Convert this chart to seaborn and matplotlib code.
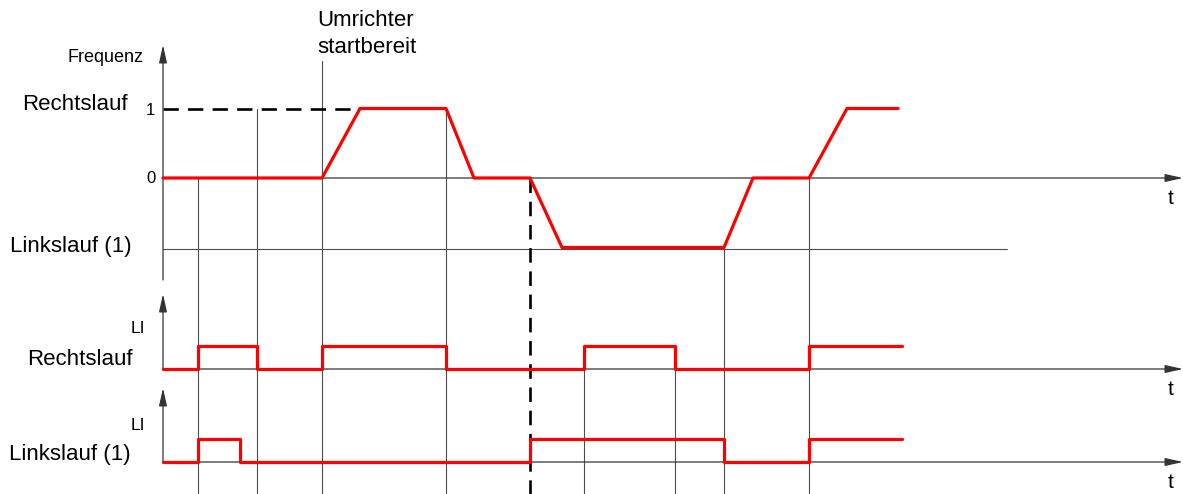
import matplotlib
matplotlib.use("Agg")
import matplotlib.pyplot as plt
import matplotlib.transforms as mtransforms
import seaborn as sns
import pandas as pd

sns.set_theme(style="white")
plt.rcParams["font.family"] = ["Liberation Sans", "DejaVu Sans"]
plt.rcParams["text.color"] = "black"

# ---- data (time in diagram units, values are signal levels) ----
freq_time = [163, 322, 360, 446, 474, 530, 562, 724, 753, 809, 847, 898]
freq_value = [0, 0, 1, 1, 0, 0, -1, -1, 0, 0, 1, 1]

li_right_time = [163, 198, 257, 322, 446, 584, 675, 809, 902]
li_right_value = [0, 1, 0, 1, 0, 1, 0, 1, 1]

li_left_time = [163, 198, 240, 530, 724, 809, 902]
li_left_value = [0, 1, 0, 1, 0, 1, 1]

event_time = [198, 257, 322, 446, 584, 675, 724, 809]
dashed_event_time = 530

freq_ticks = ["1", "0"]
labels_left = ["Rechtslauf", "Linkslauf (1)", "Rechtslauf", "Linkslauf (1)"]
title_text = "Umrichter\nstartbereit"

# ---- layout ----
W, H = 1183, 494
fig = plt.figure(figsize=(W / 100, H / 100), dpi=100)
ax = fig.add_axes([0, 0, 1, 1])
ax.set_xlim(0, W)
ax.set_ylim(H, 0)
ax.axis("off")

x0 = 163
red = "#ff0000"
grid_c = "#4d4d4d"
axis_c = "#333333"

# panel transforms: value -> pixel (base - amp*value)
def panel(base, amp):
    return mtransforms.Affine2D().scale(1, -amp).translate(0, base) + ax.transData

p_freq = panel(178, 69.5)
p_right = panel(369, 23)
p_left = panel(462, 23)

# vertical event lines (behind)
event_top = [178, 109, 61, 109, 346, 346, 249, 178]
for t, top in zip(event_time, event_top):
    ax.plot([t, t], [top, H], color=grid_c, lw=0.8, zorder=1)
ax.plot([dashed_event_time] * 2, [178, H], color="black", lw=1.9,
        dashes=(5.5, 3.3), zorder=4)

# horizontal reference lines
ax.plot([x0, 1007], [249, 249], color=grid_c, lw=0.8, zorder=1)
ax.plot([x0, 360], [109, 109], color="black", lw=1.9, dashes=(5.8, 3.5), zorder=2)

# axes with arrows
arrow_kw = dict(arrowstyle="-|>,head_length=0.9,head_width=0.2", color=axis_c,
                lw=0.9, shrinkA=0, shrinkB=0)
for y in (178, 369, 462):
    ax.annotate("", xy=(W, y), xytext=(x0, y), arrowprops=arrow_kw, zorder=2)
    ax.text(1171, y + 26, "t", fontsize=15, ha="center", va="baseline")
for ytop, ybot in ((45, 280), (294, 369), (388, 462)):
    ax.annotate("", xy=(x0, ytop), xytext=(x0, ybot), arrowprops=arrow_kw, zorder=2)

# signals via seaborn
df_f = pd.DataFrame({"t": freq_time, "v": freq_value})
df_r = pd.DataFrame({"t": li_right_time, "v": li_right_value})
df_l = pd.DataFrame({"t": li_left_time, "v": li_left_value})
sns.lineplot(data=df_f, x="t", y="v", ax=ax, color=red, lw=2.3, estimator=None,
             sort=False, transform=p_freq, zorder=5)
sns.lineplot(data=df_r, x="t", y="v", ax=ax, color=red, lw=2.3, estimator=None,
             sort=False, drawstyle="steps-post", transform=p_right, zorder=5)
sns.lineplot(data=df_l, x="t", y="v", ax=ax, color=red, lw=2.3, estimator=None,
             sort=False, drawstyle="steps-post", transform=p_left, zorder=5)
ax.set_xlim(0, W)
ax.set_ylim(H, 0)
ax.axis("off")
if ax.get_legend():
    ax.get_legend().remove()

# texts
ax.text(144, 62, "Frequenz", fontsize=13, ha="right", va="baseline")
ax.text(150, 115, freq_ticks[0], fontsize=12, ha="center", va="baseline")
ax.text(151, 183, freq_ticks[1], fontsize=12, ha="center", va="baseline")
ax.text(128, 110, labels_left[0], fontsize=16, ha="right", va="baseline")
ax.text(132, 252, labels_left[1], fontsize=16, ha="right", va="baseline")
ax.text(145, 333, "LI", fontsize=12.5, ha="right", va="baseline")
ax.text(133, 365, labels_left[2], fontsize=16, ha="right", va="baseline")
ax.text(145, 430, "LI", fontsize=12.5, ha="right", va="baseline")
ax.text(131, 460, labels_left[3], fontsize=16, ha="right", va="baseline")
ax.text(317, 26, title_text.split("\n")[0], fontsize=16, ha="left", va="baseline")
ax.text(317, 53, title_text.split("\n")[1], fontsize=16, ha="left", va="baseline")

fig.savefig("out.png", dpi=100, facecolor="white")
